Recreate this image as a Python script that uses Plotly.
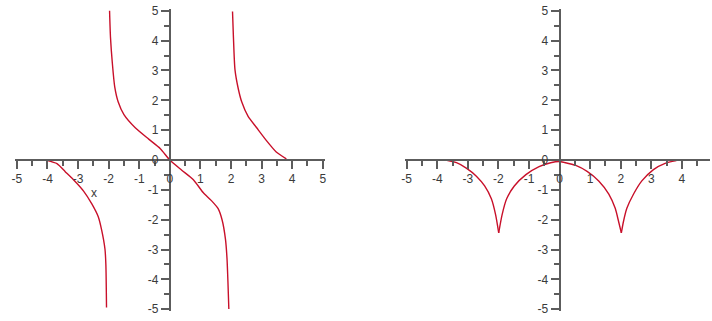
import plotly.graph_objects as go

# Left panel: three branches of the derivative curve
branch_a_x = [-4.02, -3.69, -3.42, -3.15, -2.82, -2.55, -2.34, -2.23, -2.12, -2.09, -2.07]
branch_a_y = [-0.01, -0.12, -0.39, -0.66, -1.04, -1.47, -1.90, -2.34, -2.99, -3.53, -4.94]

branch_b_x = [-1.97, -1.94, -1.88, -1.80, -1.69, -1.50, -1.13, -0.69, -0.31, 0.0,
              0.39, 0.77, 1.09, 1.36, 1.58, 1.71, 1.82, 1.87, 1.90, 1.93]
branch_b_y = [5.0, 4.11, 3.25, 2.44, 1.95, 1.52, 1.08, 0.70, 0.38, 0.0,
              -0.34, -0.66, -1.09, -1.36, -1.63, -2.01, -2.66, -3.31, -4.07, -4.99]

branch_c_x = [2.05, 2.08, 2.13, 2.24, 2.35, 2.56, 2.84, 3.16, 3.48, 3.81]
branch_c_y = [4.98, 4.11, 3.03, 2.38, 1.95, 1.46, 1.08, 0.65, 0.27, 0.04]

# Right panel: curve with cusps at x = -2 and x = 2
cusp_x = [-3.78, -3.69, -3.37, -3.05, -2.72, -2.45, -2.23, -2.09, -1.99,
          -1.88, -1.73, -1.48, -1.10, -0.67, -0.29, 0.0, 0.15, 0.53, 0.90,
          1.28, 1.61, 1.82, 1.93, 2.02, 2.09, 2.20, 2.42, 2.69, 3.07, 3.45, 3.82]
cusp_y = [0.0, -0.01, -0.09, -0.27, -0.54, -0.87, -1.30, -1.84, -2.44,
          -1.84, -1.30, -0.87, -0.49, -0.22, -0.09, -0.05, -0.08, -0.18, -0.38,
          -0.70, -1.14, -1.62, -2.06, -2.44, -2.06, -1.62, -1.14, -0.70, -0.32, -0.11, -0.02]

tick_vals = [-5, -4, -3, -2, -1, 0, 1, 2, 3, 4, 5]
tick_text = ["-5", "-4", "-3", "-2", "-1", "0", "1", "2", "3", "4", "5"]

W, H = 712, 321
CURVE = "#c8102a"
AXIS = "#5c5c5c"
TEXT = "#3a3a3a"
PX = 30.8          # pixels per unit on both axes
X0_L, X0_R, Y0 = 168.0, 560.5, 160.0   # pixel position of the origins
PAD = 0.06         # small range padding around the end ticks

fig = go.Figure()
for bx, by in [(branch_a_x, branch_a_y), (branch_b_x, branch_b_y), (branch_c_x, branch_c_y)]:
    fig.add_trace(go.Scatter(x=bx, y=by, mode="lines", xaxis="x", yaxis="y",
                             line=dict(color=CURVE, width=1.4, shape="spline", smoothing=0.6),
                             showlegend=False, hoverinfo="skip"))

# split the cusped curve at its minima so the spline keeps the points sharp
cusp_idx = [i for i, v in enumerate(cusp_y) if v == min(cusp_y)]
bounds = [0] + cusp_idx + [len(cusp_x) - 1]
for a, b in zip(bounds[:-1], bounds[1:]):
    fig.add_trace(go.Scatter(x=cusp_x[a:b + 1], y=cusp_y[a:b + 1], mode="lines",
                             xaxis="x2", yaxis="y2",
                             line=dict(color=CURVE, width=1.4, shape="spline", smoothing=0.6),
                             showlegend=False, hoverinfo="skip"))

y_lo, y_hi = -5 - PAD, 5 + PAD
y_dom = [(H - (Y0 - PX * y_lo)) / H, (H - (Y0 - PX * y_hi)) / H]
y_zero_paper = (H - Y0) / H


def axis_style(**kw):
    base = dict(
        showgrid=False, zeroline=False, showline=True, linecolor=AXIS, linewidth=2,
        ticks="outside", ticklen=8, tickwidth=1.6, tickcolor=AXIS,
        tickvals=tick_vals, ticktext=tick_text, ticklabeloverflow="allow",
        tickfont=dict(family="Liberation Sans", size=12, color=TEXT),
        minor=dict(dtick=0.5, tick0=0, ticks="outside", ticklen=5, tickwidth=1.6, tickcolor=AXIS),
        fixedrange=True,
    )
    base.update(kw)
    return base


x_lo, x_hi = -5 - PAD, 5 + PAD
left_dom = [(X0_L + PX * x_lo) / W, (X0_L + PX * x_hi) / W]
right_hi = (W - X0_R) / PX

fig.update_layout(
    width=W, height=H,
    margin=dict(l=0, r=0, t=0, b=0),
    paper_bgcolor="white", plot_bgcolor="white",
    xaxis=axis_style(domain=left_dom, range=[x_lo, x_hi], anchor="free", position=y_zero_paper),
    yaxis=axis_style(domain=y_dom, range=[y_lo, y_hi], anchor="free", position=X0_L / W),
    xaxis2=axis_style(domain=[(X0_R + PX * x_lo) / W, 1], range=[x_lo, right_hi], anchor="free",
                      position=y_zero_paper),
    yaxis2=axis_style(domain=y_dom, range=[y_lo, y_hi], anchor="free", position=X0_R / W),
    annotations=[dict(x=-2.47, y=-1.1, xref="x", yref="y", text="x", showarrow=False,
                      font=dict(family="Liberation Sans", size=12, color=TEXT))],
)

fig.write_html("out.html")
